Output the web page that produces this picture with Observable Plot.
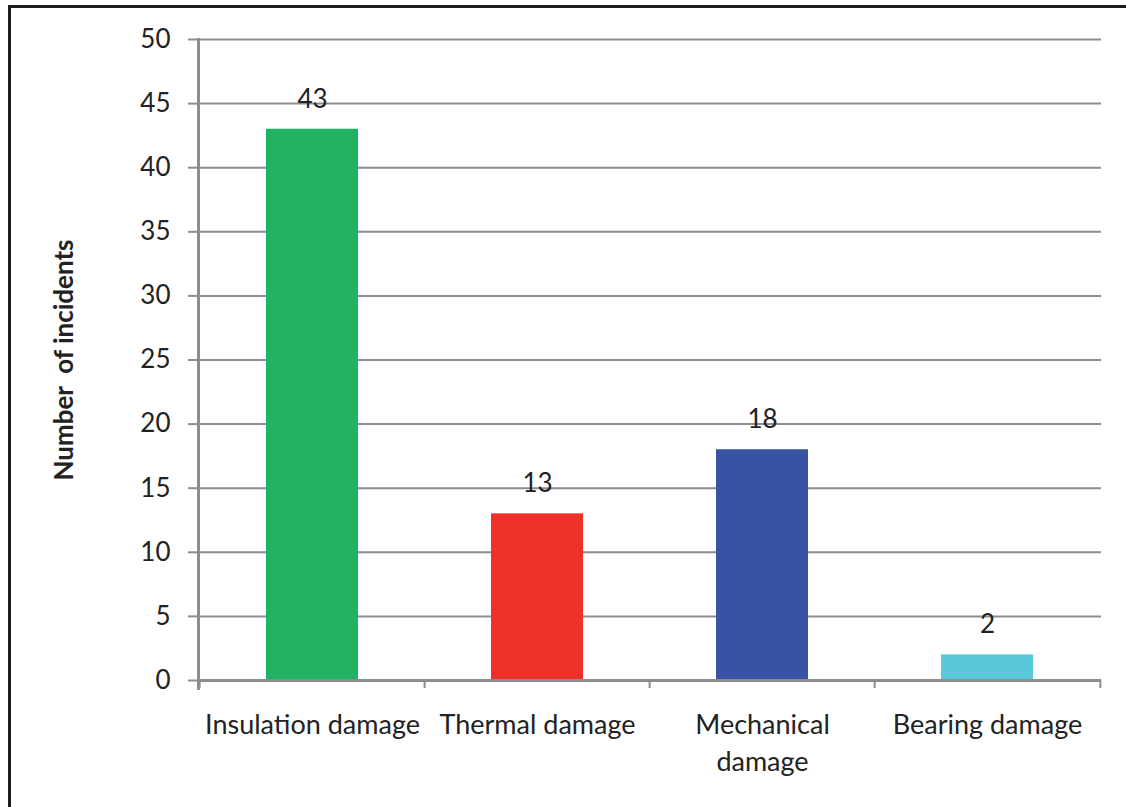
<!DOCTYPE html>
<html>
<head>
<meta charset="utf-8">
<script src="https://cdn.jsdelivr.net/npm/d3@7"></script>
<script src="https://cdn.jsdelivr.net/npm/@observablehq/plot@0.6"></script>
<style>
  html, body { margin: 0; padding: 0; background: #fff; }
  #wrap { position: relative; width: 1126px; height: 807px; overflow: hidden; }
  #border { position: absolute; left: 8px; top: 5px; right: -5px; bottom: -5px;
            border-left: 3px solid #1c1c1c; border-top: 3px solid #1c1c1c; pointer-events: none; }
  #chart { position: absolute; left: 0; top: 0; }
</style>
</head>
<body>
<div id="wrap"><div id="chart"></div><div id="border"></div></div>
<script>
const categories = ["Insulation damage", "Thermal damage", "Mechanical damage", "Bearing damage"];
const tickLabels = ["Insulation damage", "Thermal damage", "Mechanical\ndamage", "Bearing damage"];
const incidents = [43, 13, 18, 2];
const barColors = ["#22b263", "#ee3229", "#3953a4", "#5bc7db"];
const yTicks = [0, 5, 10, 15, 20, 25, 30, 35, 40, 45, 50];
const yTitle = "Number  of incidents";

const data = categories.map((c, i) => ({category: c, value: incidents[i], color: barColors[i]}));
const labelOf = new Map(categories.map((c, i) => [c, tickLabels[i]]));
const lastCat = [categories[categories.length - 1]];

const font = "Lato, 'Open Sans', sans-serif";
const grey = "#8d8d8f";
const textColor = "#222222";

const chart = Plot.plot({
  width: 1126,
  height: 807,
  marginLeft: 198,
  marginRight: 25,
  marginTop: 39,
  marginBottom: 127,
  style: {fontFamily: font, color: textColor, background: "transparent"},
  x: {domain: categories, paddingInner: 0.592, paddingOuter: 0.296},
  y: {domain: [0, 50]},
  color: {type: "identity"},
  marks: [
    Plot.gridY(yTicks, {stroke: grey, strokeOpacity: 1, strokeWidth: 2}),
    Plot.axisY(yTicks, {tickSize: 10, tickPadding: 18, stroke: grey, strokeWidth: 2, fontSize: 26, fill: textColor, label: null}),
    Plot.barY(data, {x: "category", y: "value", fill: "color"}),
    Plot.ruleY([0], {stroke: grey, strokeWidth: 3}),
    Plot.frame({anchor: "left", stroke: grey, strokeWidth: 3, insetBottom: -8}),
    Plot.ruleX(categories, {x: d => d, y1: 0, y2: 0, insetBottom: -8, dx: -112.875, stroke: grey, strokeWidth: 2}),
    Plot.ruleX(lastCat, {x: d => d, y1: 0, y2: 0, insetBottom: -8, dx: 112.875, stroke: grey, strokeWidth: 2}),
    Plot.axisX({tickSize: 0, tickPadding: 27, fontSize: 27, fill: textColor, lineHeight: 1.37, tickFormat: d => labelOf.get(d), label: null}),
    Plot.text(data, {x: "category", y: "value", text: d => String(d.value), dy: -30, fontSize: 26, fill: textColor}),
    Plot.text([yTitle], {frameAnchor: "left", textAnchor: "middle", rotate: -90, dx: -134, fontSize: 26, fontWeight: "bold", fill: textColor})
  ]
});
document.getElementById("chart").appendChild(chart);
</script>
</body>
</html>
